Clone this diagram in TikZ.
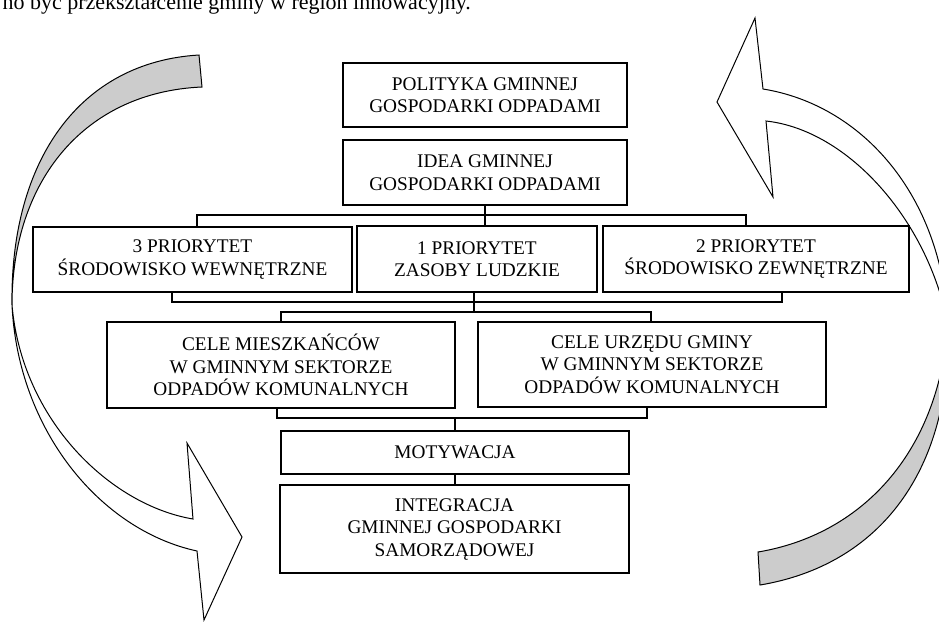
\documentclass[tikz,border=0pt]{standalone}
\usepackage{fontspec}
\setmainfont{Liberation Serif}

\begin{document}
\begin{tikzpicture}[x=1pt,y=-1pt,
    box/.style={draw, line width=1.2pt, fill=white, align=center, inner sep=0pt,
      font=\fontsize{19.3}{22.5}\selectfont},
    link/.style={line width=1.2pt},
    ribbon/.style={draw, line width=1pt, line join=miter}]
    \useasboundingbox (0,0) rectangle (939,622);
    \clip (0,0) rectangle (939,622);
    \node[anchor=base west, font=\fontsize{22}{26}\selectfont] (t) at (-1,9)
      {no być przekształcenie gminy w region innowacyjny.};

    \filldraw[ribbon, fill=black!20] (199,55) .. controls (80,62) and (10,160) .. (12,305)
      .. controls (12,180) and (85,92) .. (202,87) -- cycle;
    \filldraw[ribbon, fill=white] (12,305) .. controls (18,430) and (100,530) .. (197,551)
      -- (204,620) -- (242,537) -- (187,443) -- (193,519)
      .. controls (110,505) and (22,420) .. (12,305) -- cycle;
    \filldraw[ribbon, fill=black!20] (758,552) .. controls (860,535) and (938,455) .. (948,325)
      .. controls (952,470) and (880,565) .. (760,585) -- cycle;
    \filldraw[ribbon, fill=white] (948,325) .. controls (942,195) and (862,105) .. (763,89)
      -- (755,18) -- (717,102) -- (773,197) -- (766,121)
      .. controls (848,130) and (928,220) .. (948,325) -- cycle;

    \node[box, minimum width=284, minimum height=64] (a) at (485,95)
      {POLITYKA GMINNEJ\\GOSPODARKI ODPADAMI};
    \node[box, minimum width=284, minimum height=65] (b) at (485,172.5)
      {IDEA GMINNEJ\\GOSPODARKI ODPADAMI};
    \node[box, minimum width=319, minimum height=65] (c) at (192.5,259.5)
      {3 PRIORYTET\\ŚRODOWISKO WEWNĘTRZNE};
    \node[box, minimum width=240, minimum height=66] (d) at (477,259)
      {1 PRIORYTET\\ZASOBY LUDZKIE};
    \node[box, minimum width=306, minimum height=66] (e) at (756,259)
      {2 PRIORYTET\\ŚRODOWISKO ZEWNĘTRZNE};
    \node[box, minimum width=348, minimum height=86] (f) at (281,365)
      {CELE MIESZKAŃCÓW\\W GMINNYM SEKTORZE\\ODPADÓW KOMUNALNYCH};
    \node[box, minimum width=348, minimum height=85] (g) at (652,364.5)
      {CELE URZĘDU GMINY\\W GMINNYM SEKTORZE\\ODPADÓW KOMUNALNYCH};
    \node[box, minimum width=348, minimum height=43] (h) at (455,452.5)
      {MOTYWACJA};
    \node[box, minimum width=349, minimum height=88] (i) at (454.5,529)
      {INTEGRACJA\\GMINNEJ GOSPODARKI\\SAMORZĄDOWEJ};

    \coordinate (p) at (197,215);
    \coordinate (q) at (746,215);
    \coordinate (r) at (172,302);
    \coordinate (s) at (782,302);
    \coordinate (u) at (474,312);
    \coordinate (v) at (281,312);
    \coordinate (w) at (651,312);
    \coordinate (k) at (277,418);
    \coordinate (l) at (647,418);
    \draw[link] (b.south) -- (b.south |- d.north);
    \draw[link] (p |- c.north) -- (p) -- (q) -- (q |- e.north);
    \draw[link] (r |- c.south) -- (r) -- (s) -- (s |- e.south);
    \draw[link] (u |- d.south) -- (u);
    \draw[link] (v |- f.north) -- (v) -- (w) -- (w |- g.north);
    \draw[link] (k |- f.south) -- (k) -- (l) -- (l |- g.south);
    \draw[link] (h.north) -- (h.north |- k);
    \draw[link] (h.south) -- (h.south |- i.north);
\end{tikzpicture}
\end{document}
